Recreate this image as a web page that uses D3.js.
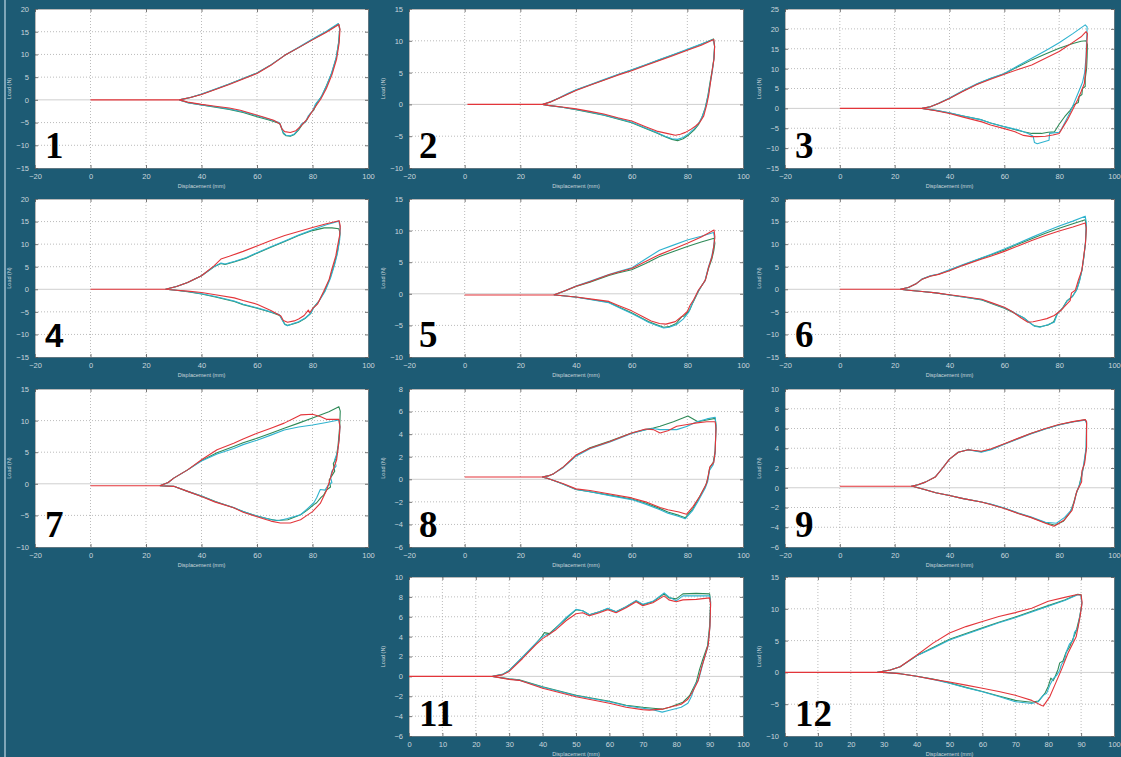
<!DOCTYPE html>
<html><head><meta charset="utf-8">
<script src="https://cdn.jsdelivr.net/npm/d3@7"></script>
<style>html,body{margin:0;padding:0;background:#1d5b74;}svg{display:block;}</style>
</head><body><svg id="c" width="1121" height="757"></svg>
<script>
// ---------- tick labels ----------
const xTicks20 = [-20, 0, 20, 40, 60, 80, 100];
const xTicks10 = [0, 10, 20, 30, 40, 50, 60, 70, 80, 90, 100];
const yTicksA = [-15, -10, -5, 0, 5, 10, 15, 20];
const yTicksB = [-10, -5, 0, 5, 10, 15];
const yTicksC = [-15, -10, -5, 0, 5, 10, 15, 20, 25];
const yTicksD = [-6, -4, -2, 0, 2, 4, 6, 8];
const yTicksE = [-6, -4, -2, 0, 2, 4, 6, 8, 10];
const panelNames = ["1","2","3","4","5","6","7","8","9","11","12"];
const xLabel = "Displacement (mm)";
const yLabel = "Load (N)";

// ---------- series (displacement mm, load N) ----------
const red1 = [[0,0],[32,0],[36,0.5],[40,1.2],[45,2.3],[50,3.4],[55,4.6],[60,5.8],[65,7.6],[70,9.8],[75,11.5],[80,13.2],[85,14.9],[89.5,16.6],[89.9,15.5],[89.6,12.5],[88.7,9],[87,5.5],[85,2.5],[83,0.2],[80.5,-2],[78,-4.3],[75.8,-5.8],[74,-6.8],[72,-7.2],[70,-7],[69,-6.4],[68.3,-5.3],[66,-4.5],[62,-3.7],[58,-3],[54,-2.3],[50,-1.8],[45,-1.4],[40,-1],[35,-0.5],[32,0]];
const cyan1 = [[32,0],[36,0.5],[40,1.3],[45,2.4],[50,3.5],[55,4.7],[60,5.9],[65,7.7],[70,9.8],[75,11.6],[80,13.4],[85,15.1],[89.3,16.8],[89.8,15.8],[89.5,12.8],[88.5,9.2],[86.8,5.8],[85,3],[83,0.5],[81,-1],[80,-2.5],[78.5,-3.5],[77.5,-4.8],[76,-5.3],[75,-6.4],[73.5,-7.5],[72,-7.9],[70.5,-7.8],[69.5,-7.2],[68.8,-6],[68,-5],[64,-4.2],[60,-3.5],[55,-2.6],[50,-2],[45,-1.5],[40,-1.1],[35,-0.6],[32,0]];
const green1 = [[32,0],[36,0.5],[40,1.25],[45,2.35],[50,3.5],[55,4.7],[60,5.9],[65,7.7],[70,9.8],[75,11.5],[80,13.3],[85,15],[89.4,16.7],[89.8,15.5],[89.4,12.6],[88.6,9.4],[87,6],[85.3,3.5],[83.5,1],[81.5,-0.8],[80.5,-2.2],[79,-3.2],[77.8,-4.6],[76.2,-5.5],[75,-6.6],[73.5,-7.6],[72,-8],[70.5,-7.9],[69.5,-7.4],[68.8,-6.2],[68.2,-5.2],[64,-4.4],[60,-3.7],[55,-2.8],[50,-2.1],[45,-1.6],[40,-1.1],[35,-0.6],[32,0]];

const red2 = [[1,0],[28,0],[31,0.4],[34,1],[37,1.6],[40,2.2],[45,3],[50,3.8],[55,4.6],[60,5.3],[65,6.1],[70,6.9],[75,7.7],[80,8.5],[85,9.3],[89.5,10.2],[89.8,9],[89.6,7.2],[89,5.5],[88.5,4],[87.7,1.5],[87,0],[85.9,-1.8],[84.5,-2.8],[83,-3.4],[81,-4],[79.3,-4.4],[77.5,-4.7],[75.7,-4.85],[73,-4.6],[69,-4.2],[65,-3.5],[60,-2.6],[55,-2.1],[50,-1.5],[45,-1.1],[40,-0.7],[35,-0.4],[30,-0.15],[28,0]];
const cyan2 = [[28,0],[31,0.45],[34,1.05],[37,1.7],[40,2.3],[45,3.1],[50,3.9],[55,4.7],[60,5.45],[65,6.25],[70,7.05],[75,7.85],[80,8.65],[85,9.5],[89.3,10.2],[89.8,9.2],[89.5,7],[89,5.2],[88.3,3.5],[87.5,1.5],[86.5,-0.5],[85.3,-2],[84,-3],[82.5,-3.8],[80.5,-4.6],[78.5,-5.2],[76.5,-5.5],[74.5,-5.4],[72,-5],[69,-4.4],[65,-3.7],[60,-2.8],[55,-2.2],[50,-1.65],[45,-1.2],[40,-0.8],[35,-0.45],[30,-0.15],[28,0]];
const green2 = [[28,0],[31,0.42],[34,1.02],[37,1.65],[40,2.25],[45,3.05],[50,3.85],[55,4.65],[60,5.4],[65,6.2],[70,7],[75,7.8],[80,8.6],[85,9.45],[89.4,10.3],[89.8,9.1],[89.5,7.1],[88.9,5.3],[88.2,3.6],[87.4,1.4],[86.4,-0.6],[85.2,-2.1],[84,-3.2],[82.5,-4],[80.5,-4.8],[78.5,-5.4],[76.5,-5.7],[74.5,-5.5],[72,-5.1],[69,-4.5],[65,-3.8],[60,-2.9],[55,-2.3],[50,-1.7],[45,-1.25],[40,-0.85],[35,-0.45],[30,-0.15],[28,0]];

const red3 = [[0,0],[30,0],[33,0.4],[36,1.2],[40,2.5],[45,4.3],[50,6],[55,7.3],[60,8.6],[65,9.8],[70,10.9],[75,12.6],[80,14.3],[85,16.6],[88,18],[89.8,19.3],[90.3,18.8],[90,15],[89.7,10],[89.2,6.3],[88,4.2],[86.7,2.1],[85,-0.2],[83,-2.9],[81.5,-4.6],[80,-6.3],[77.7,-6.7],[75,-7],[72,-7.1],[69.9,-7.1],[67,-6.8],[63.9,-5.9],[60,-5.1],[55,-4.2],[51.8,-3.4],[45,-2.2],[40,-1.3],[35,-0.6],[30,0]];
const cyan3 = [[30,0],[33,0.4],[36,1.3],[40,2.6],[45,4.5],[50,6.2],[55,7.6],[60,8.8],[65,10.7],[70,12.6],[75,14.5],[80,16.5],[85,18.8],[89.5,21],[90.2,20.5],[90,17],[89.8,13],[89.3,9],[88.5,6.5],[87,4],[85.5,1.5],[84,-1],[82.5,-3],[81,-5],[80,-6],[76.5,-6.3],[76.3,-8],[72,-8.9],[71,-8.6],[70.5,-7],[68.7,-6.3],[65,-5.4],[60,-4.6],[55,-3.7],[51.8,-2.9],[45,-1.9],[40,-1.1],[35,-0.5],[30,0]];
const green3 = [[30,0],[33,0.4],[36,1.25],[40,2.55],[45,4.4],[50,6.1],[55,7.5],[60,8.7],[65,10.5],[70,12.2],[75,13.7],[80,15.1],[85,16.3],[88,16.9],[89.8,17],[90.3,16],[90.2,13],[90,10],[89.5,7.5],[89.5,5.5],[88.5,5],[88.3,3.5],[87.3,3],[87,1.5],[85.5,1],[84,-0.5],[82,-2.1],[80,-4],[78.3,-5.9],[76,-6],[73.5,-6.3],[70,-6.3],[67,-5.9],[63,-5.2],[60,-4.6],[55,-3.7],[51.8,-2.9],[45,-1.9],[40,-1.15],[35,-0.5],[30,0]];

const red4 = [[0,0],[27,0],[31,0.6],[35,1.5],[40,3],[44.5,5.2],[47,6.7],[50,7.3],[55,8.4],[60,9.6],[65,10.8],[70,11.9],[75,12.8],[80,13.7],[85,14.5],[89.6,15.2],[90,14],[89.8,12],[89,9.5],[88.4,7.4],[87,4.5],[86,2.2],[84,-0.5],[81.8,-3.3],[80,-4.3],[79,-5.2],[78.5,-4.6],[77,-5.8],[75,-6.6],[73.4,-7],[71,-7.3],[69.5,-6.9],[68.6,-5.9],[65,-4.7],[60,-3.3],[55,-2.5],[51.8,-1.9],[45,-1.2],[40,-0.7],[35,-0.4],[30,-0.15],[27,0]];
const cyan4 = [[27,0],[31,0.6],[35,1.5],[40,3],[44.5,5],[47,5.8],[48.5,5.6],[52,6.2],[56,7],[60,8.1],[65,9.4],[70,10.7],[75,12],[80,13.2],[85,14.3],[89.5,15.1],[90,13.5],[89.8,11],[89,8],[88,5.5],[86.5,2.5],[84.5,-0.5],[82.5,-2.5],[80.5,-4],[79.5,-5.2],[77.5,-6.3],[75,-7.2],[73,-7.6],[71,-8.1],[70,-7.8],[68,-5.6],[65,-5],[60,-4.1],[55,-3.3],[51.8,-2.6],[45,-1.6],[40,-1],[35,-0.5],[30,-0.15],[27,0]];
const green4 = [[27,0],[31,0.6],[35,1.5],[40,3],[44.5,5],[47,5.7],[48.5,5.5],[52,6.1],[56,6.9],[60,8],[65,9.3],[70,10.6],[75,11.9],[80,13],[84.2,13.6],[87,13.6],[89.5,13.4],[89.9,12.5],[89.6,10.5],[88.8,7.8],[87.7,5.2],[86.2,2.3],[84.3,-0.5],[82.3,-2.6],[80.3,-4.1],[79.3,-5.4],[77.3,-6.5],[75,-7.3],[73,-7.7],[71,-8],[70,-7.7],[68.2,-5.8],[65,-5.1],[60,-4.2],[55,-3.4],[51.8,-2.7],[45,-1.7],[40,-1.05],[35,-0.55],[30,-0.15],[27,0]];

const red5 = [[0,-0.2],[32,-0.2],[36,0.5],[40,1.2],[45,1.9],[51.8,3],[55,3.4],[60,4],[65,5.1],[70,6.2],[75,7.1],[80,8],[85,9],[89.6,10.1],[89.9,9],[89.5,7.5],[88.9,5.9],[87.7,4.3],[86.5,2.2],[85.5,1.5],[84,0.6],[83,-0.3],[82.3,-0.9],[81,-1.8],[80,-2.8],[78,-3.6],[75.7,-4.4],[72.3,-4.8],[70,-4.7],[67,-4.3],[63.9,-3.6],[60,-2.7],[55,-1.8],[51.8,-1.2],[45,-0.8],[40,-0.5],[32.5,-0.2]];
const cyan5 = [[32,-0.2],[36,0.5],[40,1.25],[45,2],[51.8,3.05],[55,3.5],[60,4.1],[65,5.5],[70,6.9],[75,7.7],[80,8.5],[85,9.1],[89.4,9.7],[89.8,8.8],[89.4,7.3],[88.7,5.8],[87.5,4.1],[86.3,2],[85.2,1.3],[83.8,0.3],[82.8,-0.6],[81.8,-1.5],[80.5,-2.9],[78.5,-4],[76,-4.9],[73.5,-5.3],[71.5,-5.4],[69,-5],[66,-4.5],[63.9,-4],[60,-3.1],[55,-2.1],[51.8,-1.4],[45,-0.9],[40,-0.55],[32.5,-0.2]];
const green5 = [[32,-0.2],[36,0.45],[40,1.15],[45,1.85],[51.8,2.9],[55,3.3],[60,3.8],[65,4.8],[70,5.9],[75,6.7],[80,7.5],[85,8.2],[89.6,8.8],[89.9,8],[89.5,6.8],[88.8,5.5],[87.6,4],[86.4,2.1],[85.3,1.4],[84,0.4],[83,-0.5],[82,-1.4],[80.8,-2.6],[79,-3.5],[78,-3.6],[76,-4.7],[73.5,-5.2],[71.5,-5.3],[69,-4.9],[66,-4.4],[63.9,-3.9],[60,-3],[55,-2],[51.8,-1.35],[45,-0.85],[40,-0.5],[32.5,-0.2]];

const red6 = [[0,0],[22,0],[25,0.4],[28,1.3],[30,2.2],[33,2.9],[36,3.3],[40,4.1],[45,5.3],[51.8,6.7],[55,7.3],[60,8.4],[65,9.6],[70,10.8],[75,11.9],[80,12.9],[85,13.8],[89.5,14.7],[89.9,13.5],[89.6,10.2],[89,7.5],[88.3,4.3],[87,2],[85.9,-0.2],[84.5,-0.8],[84,-2.5],[82,-3.8],[80.6,-4.7],[78.2,-5.8],[75.5,-6.5],[73.4,-6.8],[70.5,-7.2],[68.6,-7.3],[66,-6.3],[63,-5],[60,-4],[55,-2.9],[51.8,-2.2],[45,-1.6],[40,-1.2],[35,-0.8],[30,-0.5],[25,-0.2],[22,0]];
const cyan6 = [[22,0],[25,0.4],[28,1.3],[30,2.3],[33,3],[36,3.4],[40,4.3],[45,5.5],[51.8,7],[55,7.7],[60,8.9],[65,10.2],[70,11.5],[75,12.8],[80,14],[85,15.1],[89.5,16.2],[89.9,14.8],[89.6,10.5],[89,7],[88.3,4.3],[87.5,2],[86.5,0],[85,-1.5],[83,-2.5],[81.5,-4],[79.4,-5.4],[78.2,-7.3],[76,-7.8],[73,-8.4],[71,-8.2],[69.9,-7.7],[67,-6.3],[63,-5],[60,-4.1],[55,-3],[51.8,-2.3],[45,-1.7],[40,-1.25],[35,-0.8],[30,-0.5],[25,-0.2],[22,0]];
const green6 = [[22,0],[25,0.4],[28,1.3],[30,2.25],[33,2.95],[36,3.35],[40,4.2],[45,5.4],[51.8,6.9],[55,7.6],[60,8.7],[65,10],[70,11.2],[75,12.4],[80,13.5],[85,14.5],[89.5,15.4],[89.9,14],[89.6,10.3],[89,7.2],[88.3,4.2],[87.4,1.9],[86.3,-0.2],[84.8,-1.6],[82.8,-2.6],[81.3,-4.1],[79.2,-5.5],[78,-7.2],[76,-7.9],[73,-8.3],[71,-8.1],[69.7,-7.6],[67,-6.3],[63,-5.1],[60,-4.2],[55,-3.1],[51.8,-2.35],[45,-1.7],[40,-1.25],[35,-0.8],[30,-0.5],[25,-0.2],[22,0]];

const red7 = [[0,-0.3],[25,-0.3],[28,0.2],[30,0.9],[35,2.2],[40,3.8],[45.6,5.4],[51.6,6.4],[55,7.1],[60,8],[65,8.8],[69.8,9.6],[73,10.3],[75.7,10.9],[80,11],[83,10.6],[85,10.2],[89.5,10.2],[89.9,9],[89.6,7],[88.7,3.8],[87,1.7],[85.2,-0.9],[82.8,-3.1],[80,-4.4],[78,-5],[75.7,-5.7],[72,-6.2],[68.4,-6.2],[65,-5.9],[63.5,-5.7],[60,-5.2],[55,-4.5],[51.6,-3.8],[45,-2.9],[40,-2],[35,-1.2],[30,-0.4],[25,-0.3]];
const cyan7 = [[25,-0.3],[28,0.2],[30,0.9],[35,2.2],[40,3.6],[45.6,4.7],[51.6,5.6],[55,6.2],[60,6.9],[65,7.7],[69.8,8.5],[75,9],[80,9.3],[85,9.7],[89.5,10.1],[89.9,9],[89.6,7],[89,5],[88,3.8],[88.5,2.8],[87,2],[86.5,1],[87,0.2],[85.5,-0.3],[84.5,-1],[82.8,-0.9],[81.5,-2.2],[80.5,-3],[78,-4],[75.7,-4.9],[71,-5.5],[68,-5.8],[65,-5.7],[63.5,-5.5],[60,-5.1],[55,-4.4],[51.6,-3.75],[45,-2.85],[40,-1.95],[35,-1.2],[30,-0.4],[25,-0.3]];
const green7 = [[25,-0.3],[28,0.2],[30,0.9],[35,2.2],[40,3.7],[45.6,4.9],[51.6,5.9],[55,6.5],[60,7.2],[65,8],[69.8,8.8],[75,9.6],[80,10.4],[85.9,11.4],[89.5,12.2],[90,11.5],[89.8,9],[89.2,6],[88.5,4],[87.5,3.2],[88,2],[87,1.3],[86,0.6],[86.5,-0.5],[85,-1],[84,-1.8],[83,-2.2],[81.5,-3],[80.5,-3.3],[78,-4.2],[75.7,-4.9],[71.1,-5.7],[67,-5.8],[63.5,-5.5],[60,-5.1],[55,-4.4],[51.6,-3.8],[45,-2.8],[40,-1.95],[35,-1.2],[30,-0.4],[25,-0.3]];

const red8 = [[0,0.2],[27.8,0.2],[30,0.3],[32,0.5],[35.5,1.1],[40,2.15],[45,2.75],[52.2,3.35],[60,4.1],[65,4.45],[67.8,4.4],[70.2,4.1],[73,4.3],[76.2,4.7],[80,4.85],[83.4,5],[87,5.1],[90,5.1],[90.3,4.5],[90,2.5],[89.5,1.5],[88.1,1.1],[87.5,0.3],[86.9,-0.37],[84.5,-1.5],[82.1,-2.4],[79.7,-3.1],[77,-2.9],[73,-2.7],[70.2,-2.5],[65,-2],[60,-1.65],[52.2,-1.3],[45,-1],[40,-0.85],[35.5,-0.4],[32,-0.1],[29.6,0.1],[27.8,0.2]];
const cyan8 = [[27.8,0.2],[30,0.3],[32,0.5],[35.5,1.05],[40,2.05],[45,2.7],[52.2,3.3],[60,4.05],[65,4.4],[67.8,4.5],[70.2,4.4],[76.2,4.4],[80,4.7],[83.4,5.1],[87,5.35],[90,5.5],[90.3,4.8],[90,2.3],[89.3,1.3],[88,0.8],[87.3,-0.2],[86.4,-0.8],[84.2,-1.8],[81.8,-2.8],[79.2,-3.5],[77,-3.3],[73,-3],[70.2,-2.7],[65,-2.2],[60,-1.8],[52.2,-1.45],[45,-1.1],[40,-0.9],[35.5,-0.45],[32,-0.1],[29.6,0.1],[27.8,0.2]];
const green8 = [[27.8,0.2],[30,0.3],[32,0.5],[35.5,1.1],[40,2.1],[45,2.8],[52.2,3.4],[60,4.1],[65,4.4],[67.8,4.55],[70.2,4.7],[75,5.1],[80.2,5.6],[83.8,5.1],[87,5.25],[90,5.4],[90.3,4.8],[90,2.5],[89.3,1.5],[88,1],[87.3,0],[86.5,-0.6],[84.3,-1.6],[82,-2.6],[79.3,-3.4],[77,-3.2],[73,-2.9],[70.2,-2.6],[65,-2.1],[60,-1.75],[52.2,-1.4],[45,-1.1],[40,-0.9],[35.5,-0.45],[32,-0.1],[29.6,0.1],[27.8,0.2]];

const red9 = [[0,0.15],[26,0.15],[28.5,0.3],[31.2,0.57],[34.8,1.08],[37.2,1.9],[40,2.9],[43.2,3.6],[46.8,3.85],[51.6,3.7],[55.2,3.95],[60,4.45],[65,5],[69.6,5.5],[75,6],[79.9,6.4],[85,6.7],[89.5,6.9],[90,6.7],[90,4.1],[89.3,2.5],[88.3,1.7],[88.2,0.6],[87.5,0.2],[86.5,-0.3],[84.7,-2.3],[81.7,-3.3],[78.1,-3.9],[75,-3.6],[69.6,-3.0],[65,-2.6],[60,-2.1],[55,-1.7],[51.6,-1.45],[45,-1.1],[40,-0.78],[35,-0.5],[31.2,-0.2],[26.5,0.15]];
const cyan9 = [[26,0.15],[28.5,0.3],[31.2,0.57],[34.8,1.1],[37.2,1.9],[40,2.9],[43.2,3.6],[46.8,3.85],[51.6,3.6],[55.2,3.85],[60,4.4],[65,4.95],[69.6,5.45],[75,5.95],[79.9,6.35],[85,6.65],[89.5,6.85],[90,6.5],[89.8,4],[89,2.5],[88.3,1.2],[87.3,0.2],[86.3,-0.5],[85.5,-1.5],[84.3,-2.3],[82,-3],[79,-3.6],[75,-3.5],[69.6,-2.95],[65,-2.55],[60,-2.05],[55,-1.65],[51.6,-1.45],[45,-1.1],[40,-0.78],[35,-0.5],[31.2,-0.2],[26.5,0.15]];
const green9 = [[26,0.15],[28.5,0.3],[31.2,0.57],[34.8,1.09],[37.2,1.9],[40,2.9],[43.2,3.6],[46.8,3.85],[51.6,3.65],[55.2,3.9],[60,4.42],[65,4.98],[69.6,5.48],[75,5.98],[79.9,6.38],[85,6.68],[89.5,6.88],[90,6.6],[89.9,4.1],[89.1,2.4],[88.2,1.3],[87.2,0.1],[86.2,-0.6],[85.2,-1.6],[84,-2.5],[81.5,-3.4],[78.5,-3.8],[75,-3.55],[69.6,-2.98],[65,-2.57],[60,-2.08],[55,-1.68],[51.6,-1.45],[45,-1.1],[40,-0.78],[35,-0.5],[31.2,-0.2],[26.5,0.15]];

const red11 = [[0,0],[25,0],[28,0.15],[30,0.5],[34,1.8],[38,3.2],[40,3.8],[44,4.7],[47,5.6],[50,6.3],[52,6.4],[54,6.1],[57,6.4],[59.5,6.7],[62,6.4],[65,6.9],[68,7.5],[70,7.1],[73,7.4],[76.4,8.1],[77.8,7.7],[80,7.5],[82,7.7],[86,7.75],[90,7.9],[90.3,7.2],[90.1,5],[89.6,3.2],[88.5,1.9],[87.5,0.8],[86.5,-0.5],[85,-1.5],[83.5,-2.3],[81.5,-2.8],[78,-3.1],[75.8,-3.3],[72,-3.4],[69.9,-3.35],[65,-3.1],[60,-2.7],[50,-2.05],[40,-1.2],[33,-0.4],[30,-0.3],[25,0]];
const cyan11 = [[25,0],[28,0.2],[30,0.6],[34,1.95],[38,3.35],[40,4.0],[41,4.2],[42,4.2],[44,4.85],[47,5.9],[50,6.75],[52,6.6],[54,6.2],[57,6.5],[59.5,6.85],[62,6.5],[65,7],[68,7.65],[70,7.25],[73,7.55],[76.4,8.4],[77.8,8],[80,7.6],[82,8.1],[86,8.1],[90,8.1],[90.3,7.4],[90.1,5],[89.5,3],[88.3,1.7],[87.3,0.4],[86.7,-0.3],[85.5,-1],[84.6,-2],[83.5,-2.7],[81.5,-3.1],[78,-3.4],[75.8,-3.6],[73,-3.35],[69.9,-3.2],[65,-2.95],[60,-2.55],[50,-1.95],[40,-1.1],[33,-0.38],[30,-0.27],[25,0]];
const green11 = [[25,0],[28,0.2],[30,0.6],[34,1.9],[38,3.3],[40,4.1],[40.5,4.4],[42,4.3],[44,4.9],[47,5.8],[50,6.7],[52,6.6],[54,6.2],[57,6.5],[59.5,6.8],[62,6.5],[65,7],[68,7.6],[70,7.2],[73,7.5],[76.4,8.3],[77.8,7.9],[80,7.8],[82,8.3],[86,8.35],[90,8.3],[90.3,7.5],[90,5.1],[89.4,3.1],[88,1.75],[87,0.7],[86,-0.6],[84,-1.95],[82,-2.6],[78,-3.1],[75.8,-3.3],[73,-3.2],[69.9,-3.1],[65,-2.9],[60,-2.5],[50,-1.9],[40,-1.05],[33,-0.35],[30,-0.25],[25,0]];

const red12 = [[0,0],[28,0],[32,0.37],[35,0.9],[40,2.7],[45,4.6],[50,6.2],[55,7.2],[60,8],[65,8.8],[70,9.4],[75,10.1],[80,11.2],[85,11.8],[88.5,12.2],[90,12.2],[90.3,11],[89.7,8.8],[88.5,5.6],[86,3],[84,0.4],[82,-2],[80.5,-3.8],[78.5,-5.3],[78,-5.2],[75,-4.4],[70,-3.6],[65,-3],[60,-2.5],[55,-2],[50,-1.5],[45,-1.1],[40,-0.6],[35,-0.2],[30,0],[28,0]];
const cyan12 = [[28,0],[32,0.37],[35,0.9],[40,2.6],[45,3.8],[50,5.1],[55,6],[60,6.9],[65,7.8],[70,8.6],[75,9.5],[80,10.4],[85,11.3],[89,12.2],[90,12.1],[90.2,10.5],[89.5,8.5],[89,7],[88,6.3],[87.5,5],[86.5,4.5],[85.5,3.2],[85,2],[84,1.2],[83.5,0.3],[82.5,-0.5],[81.5,-1],[80.5,-2],[79.5,-3.3],[78.5,-3.6],[77,-4.6],[75,-4.9],[70,-4.6],[65,-3.8],[60,-3.05],[55,-2.4],[50,-1.7],[45,-1.1],[40,-0.6],[35,-0.2],[30,0],[28,0]];
const green12 = [[28,0],[32,0.37],[35,0.9],[40,2.6],[45,3.9],[50,5.2],[55,6.1],[60,7],[65,7.9],[70,8.7],[75,9.6],[80,10.5],[85,11.4],[89,12.3],[90,12.2],[90.2,10.8],[89.6,8.8],[88.5,6.5],[87.8,5.6],[86.5,4],[85.3,3],[84.5,1.8],[83.5,1.5],[83,0.5],[82,-0.8],[81.5,-1.3],[80.8,-0.9],[80,-2.2],[79,-3.3],[77,-4.5],[75,-4.7],[70,-4.4],[65,-3.7],[60,-3],[55,-2.35],[50,-1.65],[45,-1.05],[40,-0.6],[35,-0.2],[30,0],[28,0]];

// ---------- layout ----------
const C1 = [35, 368], C2 = [409, 743], C3 = [785, 1114];
const R1 = [9, 168], R2 = [199, 357], R3 = [389, 547], R4 = [577, 736];
const panels = [
  {name: panelNames[0], col: C1, row: R1, xd: [-20,100], yd: [-15,20], xt: xTicks20, yt: yTicksA, s: [red1, cyan1, green1]},
  {name: panelNames[1], col: C2, row: R1, xd: [-20,100], yd: [-10,15], xt: xTicks20, yt: yTicksB, s: [red2, cyan2, green2]},
  {name: panelNames[2], col: C3, row: R1, xd: [-20,100], yd: [-15,25], xt: xTicks20, yt: yTicksC, s: [red3, cyan3, green3]},
  {name: panelNames[3], col: C1, row: R2, xd: [-20,100], yd: [-15,20], xt: xTicks20, yt: yTicksA, s: [red4, cyan4, green4], sans: true},
  {name: panelNames[4], col: C2, row: R2, xd: [-20,100], yd: [-10,15], xt: xTicks20, yt: yTicksB, s: [red5, cyan5, green5]},
  {name: panelNames[5], col: C3, row: R2, xd: [-20,100], yd: [-15,20], xt: xTicks20, yt: yTicksA, s: [red6, cyan6, green6]},
  {name: panelNames[6], col: C1, row: R3, xd: [-20,100], yd: [-10,15], xt: xTicks20, yt: yTicksB, s: [red7, cyan7, green7]},
  {name: panelNames[7], col: C2, row: R3, xd: [-20,100], yd: [-6,8], xt: xTicks20, yt: yTicksD, s: [red8, cyan8, green8]},
  {name: panelNames[8], col: C3, row: R3, xd: [-20,100], yd: [-6,10], xt: xTicks20, yt: yTicksE, s: [red9, cyan9, green9]},
  {name: panelNames[9], col: C2, row: R4, xd: [0,100], yd: [-6,10], xt: xTicks10, yt: yTicksE, s: [red11, cyan11, green11]},
  {name: panelNames[10], col: C3, row: R4, xd: [0,100], yd: [-10,15], xt: xTicks10, yt: yTicksB, s: [red12, cyan12, green12]}
];
const colors = ["#e3353a", "#2fb3cf", "#2f8a58"];

const svg = d3.select("#c");
svg.append("rect").attr("width", 1121).attr("height", 757).attr("fill", "#1d5b74");
svg.append("rect").attr("x", 4).attr("width", 2).attr("height", 757).attr("fill", "#7fa6b8");

panels.forEach((p, i) => {
  const [l, r] = p.col, [t, b] = p.row;
  const x = d3.scaleLinear().domain(p.xd).range([l, r]);
  const y = d3.scaleLinear().domain(p.yd).range([b, t]);
  const g = svg.append("g");
  g.append("rect").attr("x", l).attr("y", t).attr("width", r - l).attr("height", b - t).attr("fill", "#ffffff");
  const clipId = "clip" + i;
  g.append("clipPath").attr("id", clipId).append("rect").attr("x", l).attr("y", t).attr("width", r - l).attr("height", b - t);

  // grid
  const grid = g.append("g").attr("stroke", "#a9a9a9").attr("stroke-width", 0.8).attr("stroke-dasharray", "1,2");
  p.xt.filter(v => v > p.xd[0] && v < p.xd[1]).forEach(v => grid.append("line").attr("x1", x(v)).attr("x2", x(v)).attr("y1", t).attr("y2", b));
  p.yt.filter(v => v > p.yd[0] && v < p.yd[1] && v !== 0).forEach(v => grid.append("line").attr("y1", y(v)).attr("y2", y(v)).attr("x1", l).attr("x2", r));
  g.append("line").attr("x1", l).attr("x2", r).attr("y1", y(0)).attr("y2", y(0)).attr("stroke", "#cfcfcf").attr("stroke-width", 1);

  // axes
  const ax = g.append("g").attr("transform", `translate(0,${b})`)
    .call(d3.axisBottom(x).tickValues(p.xt).tickSize(-3).tickPadding(6).tickFormat(d3.format("d")));
  const ay = g.append("g").attr("transform", `translate(${l},0)`)
    .call(d3.axisLeft(y).tickValues(p.yt).tickSize(-3).tickPadding(6).tickFormat(d3.format("d")));
  const axt = g.append("g").attr("transform", `translate(0,${t})`)
    .call(d3.axisTop(x).tickValues(p.xt).tickSize(-3).tickFormat(""));
  const ayr = g.append("g").attr("transform", `translate(${r},0)`)
    .call(d3.axisRight(y).tickValues(p.yt).tickSize(-3).tickFormat(""));
  [ax, ay, axt, ayr].forEach(a => {
    a.select(".domain").attr("stroke", "#8a8a8a").attr("stroke-width", 0.6);
    a.selectAll(".tick line").attr("stroke", "#555").attr("stroke-width", 0.8);
    a.selectAll(".tick text").attr("fill", "#c9d6dc").attr("font-family", "Liberation Sans, Arial, sans-serif").attr("font-size", 7.5);
  });

  g.append("text").attr("x", (l + r) / 2).attr("y", b + 20).attr("text-anchor", "middle")
    .attr("fill", "#c9d6dc").attr("font-family", "Liberation Sans, Arial, sans-serif").attr("font-size", 5.5).text(xLabel);
  g.append("text").attr("transform", `translate(${l - 24},${(t + b) / 2}) rotate(-90)`).attr("text-anchor", "middle")
    .attr("fill", "#c9d6dc").attr("font-family", "Liberation Sans, Arial, sans-serif").attr("font-size", 5.5).text(yLabel);

  // series
  const line = d3.line().x(d => x(d[0])).y(d => y(d[1]));
  const sg = g.append("g").attr("clip-path", `url(#${clipId})`);
  [2, 1, 0].forEach(k => {
    sg.append("path").datum(p.s[k]).attr("d", line).attr("fill", "none")
      .attr("stroke", colors[k]).attr("stroke-width", 1.1).attr("stroke-linejoin", "round");
  });

  // panel number
  g.append("text").attr("x", l + 10).attr("y", b - 10)
    .attr("font-family", p.sans ? "Liberation Sans, Arial, sans-serif" : "Liberation Serif, Times New Roman, serif")
    .attr("font-weight", "bold").attr("font-size", p.sans ? 33 : 37).attr("fill", "#000").text(p.name);
});
</script>
</body></html>
